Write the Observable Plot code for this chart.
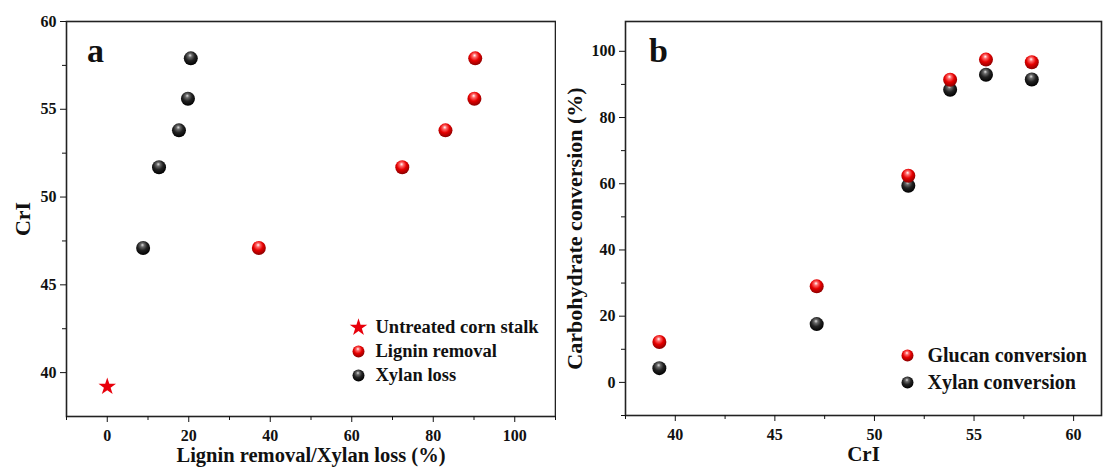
<!DOCTYPE html>
<html><head><meta charset="utf-8">
<script src="https://cdn.jsdelivr.net/npm/d3@7"></script>
<script src="https://cdn.jsdelivr.net/npm/@observablehq/plot@0.6"></script>
<style>
html,body{margin:0;padding:0;background:#fff;}
#wrap{display:flex;flex-direction:row;width:1103px;height:468px;}
</style></head>
<body><div id="wrap"></div>
<script>
// ---- data ----
const crI = [39.2, 47.1, 51.7, 53.8, 55.6, 57.9];
const untreatedX = [0];
const untreatedCrI = [39.2];
const ligninRemoval = [37.2, 72.4, 83.0, 90.1, 90.3];
const xylanLoss = [8.8, 12.7, 17.6, 19.8, 20.5];
const treatedCrI = [47.1, 51.7, 53.8, 55.6, 57.9];
const glucanConversion = [12.2, 29.0, 62.4, 91.4, 97.5, 96.7];
const xylanConversion = [4.3, 17.6, 59.4, 88.4, 92.9, 91.5];
const xTicksA = [0, 20, 40, 60, 80, 100];
const xMinorA = [-10, 10, 30, 50, 70, 90, 110];
const yTicksA = [40, 45, 50, 55, 60];
const yMinorA = [42.5, 47.5, 52.5, 57.5];
const xTicksB = [40, 45, 50, 55, 60];
const xMinorB = [37.5, 42.5, 47.5, 52.5, 57.5];
const yTicksB = [0, 20, 40, 60, 80, 100];
const yMinorB = [-10, 10, 30, 50, 70, 90];
const legendA = ["Untreated corn stalk", "Lignin removal", "Xylan loss"];
const legendB = ["Glucan conversion", "Xylan conversion"];

const FONT = "'Liberation Serif','Times New Roman',serif";
const RED = "#e8000b";

function defs(prefix) {
  return () => {
    const ns = "http://www.w3.org/2000/svg";
    const g = document.createElementNS(ns, "defs");
    g.innerHTML = `
      <radialGradient id="${prefix}red" cx="45%" cy="38%" r="62%" fx="45%" fy="28%">
        <stop offset="0%" stop-color="#ffffff"/>
        <stop offset="22%" stop-color="#ff6a6a"/>
        <stop offset="55%" stop-color="#e60000"/>
        <stop offset="100%" stop-color="#8a0000"/>
      </radialGradient>
      <radialGradient id="${prefix}blk" cx="45%" cy="38%" r="62%" fx="45%" fy="28%">
        <stop offset="0%" stop-color="#e0e0e0"/>
        <stop offset="22%" stop-color="#6a6a6a"/>
        <stop offset="55%" stop-color="#222"/>
        <stop offset="100%" stop-color="#000"/>
      </radialGradient>`;
    return g;
  };
}

const wrap = document.getElementById("wrap");
const styleBase = {fontFamily: FONT, fontWeight: "bold", fontSize: "16px", color: "#111", background: "#fff", overflow: "visible"};

// ---- panel a ----
const dataUntreated = untreatedX.map((x, i) => ({x, y: untreatedCrI[i]}));
const dataLignin = ligninRemoval.map((x, i) => ({x, y: treatedCrI[i]}));
const dataXylan = xylanLoss.map((x, i) => ({x, y: treatedCrI[i]}));

const plotA = Plot.plot({
  width: 556, height: 468,
  marginLeft: 66, marginRight: 1, marginTop: 21, marginBottom: 52,
  style: styleBase,
  x: {domain: [-10, 110]},
  y: {domain: [37.5, 60]},
  marks: [
    defs("a"),
    Plot.frame({stroke: "#222", strokeWidth: 1.6}),
    Plot.axisX(xTicksA, {tickSize: 6, tickPadding: 7, label: null, fontSize: 16}),
    Plot.axisX(xMinorA, {tickSize: 4, fill: "none", label: null}),
    Plot.axisY(yTicksA, {tickSize: 6, tickPadding: 4, label: null, fontSize: 16}),
    Plot.axisY(yMinorA, {tickSize: 4, fill: "none", label: null}),
    Plot.text(["Lignin removal/Xylan loss (%)"], {frameAnchor: "bottom", dy: 38.5, fontSize: 20.5, lineAnchor: "middle"}),
    Plot.text(["CrI"], {frameAnchor: "left", dx: -44, rotate: -90, textAnchor: "middle", lineAnchor: "middle", fontSize: 22}),
    Plot.text(["a"], {frameAnchor: "top-left", dx: 29, dy: 30, fontSize: 34, textAnchor: "middle", lineAnchor: "middle"}),
    Plot.dot(dataXylan, {x: "x", y: "y", r: 7, fill: "url(#ablk)"}),
    Plot.dot(dataLignin, {x: "x", y: "y", r: 7, fill: "url(#ared)"}),
    Plot.dot(dataUntreated, {x: "x", y: "y", r: 5.5, symbol: "star", fill: RED}),
    // legend
    Plot.dot([legendA[0]], {frameAnchor: "bottom-right", dx: -197, dy: -89, r: 5.5, symbol: "star", fill: RED}),
    Plot.dot([legendA[1]], {frameAnchor: "bottom-right", dx: -197, dy: -65, r: 6, fill: "url(#ared)"}),
    Plot.dot([legendA[2]], {frameAnchor: "bottom-right", dx: -197, dy: -41, r: 6, fill: "url(#ablk)"}),
    Plot.text([legendA[0]], {frameAnchor: "bottom-right", dx: -180, dy: -89, textAnchor: "start", lineAnchor: "middle", fontSize: 18.5}),
    Plot.text([legendA[1]], {frameAnchor: "bottom-right", dx: -180, dy: -65, textAnchor: "start", lineAnchor: "middle", fontSize: 18.5}),
    Plot.text([legendA[2]], {frameAnchor: "bottom-right", dx: -180, dy: -41, textAnchor: "start", lineAnchor: "middle", fontSize: 18.5}),
  ]
});
wrap.appendChild(plotA);

// ---- panel b ----
const dataGlucan = crI.map((x, i) => ({x, y: glucanConversion[i]}));
const dataXylanC = crI.map((x, i) => ({x, y: xylanConversion[i]}));

const plotB = Plot.plot({
  width: 547, height: 468,
  marginLeft: 69, marginRight: 2, marginTop: 21, marginBottom: 53,
  style: styleBase,
  x: {domain: [37.5, 61.4]},
  y: {domain: [-10, 109]},
  marks: [
    defs("b"),
    Plot.frame({stroke: "#222", strokeWidth: 1.6}),
    Plot.axisX(xTicksB, {tickSize: 6, tickPadding: 7, label: null, fontSize: 16}),
    Plot.axisX(xMinorB, {tickSize: 4, fill: "none", label: null}),
    Plot.axisY(yTicksB, {tickSize: 6, tickPadding: 4, label: null, fontSize: 16}),
    Plot.axisY(yMinorB, {tickSize: 4, fill: "none", label: null}),
    Plot.text(["CrI"], {frameAnchor: "bottom", dy: 38.5, fontSize: 21, lineAnchor: "middle"}),
    Plot.text(["Carbohydrate conversion (%)"], {frameAnchor: "left", dx: -51, dy: 10, rotate: -90, textAnchor: "middle", lineAnchor: "middle", fontSize: 22}),
    Plot.text(["b"], {frameAnchor: "top-left", dx: 33, dy: 30, fontSize: 34, textAnchor: "middle", lineAnchor: "middle"}),
    Plot.dot(dataXylanC, {x: "x", y: "y", r: 7, fill: "url(#bblk)"}),
    Plot.dot(dataGlucan, {x: "x", y: "y", r: 7, fill: "url(#bred)"}),
    // legend
    Plot.dot([legendB[0]], {frameAnchor: "bottom-right", dx: -194, dy: -60, r: 6, fill: "url(#bred)"}),
    Plot.dot([legendB[1]], {frameAnchor: "bottom-right", dx: -194, dy: -33, r: 6, fill: "url(#bblk)"}),
    Plot.text([legendB[0]], {frameAnchor: "bottom-right", dx: -174, dy: -60, textAnchor: "start", lineAnchor: "middle", fontSize: 20}),
    Plot.text([legendB[1]], {frameAnchor: "bottom-right", dx: -174, dy: -33, textAnchor: "start", lineAnchor: "middle", fontSize: 20}),
  ]
});
wrap.appendChild(plotB);
</script>
</body></html>
